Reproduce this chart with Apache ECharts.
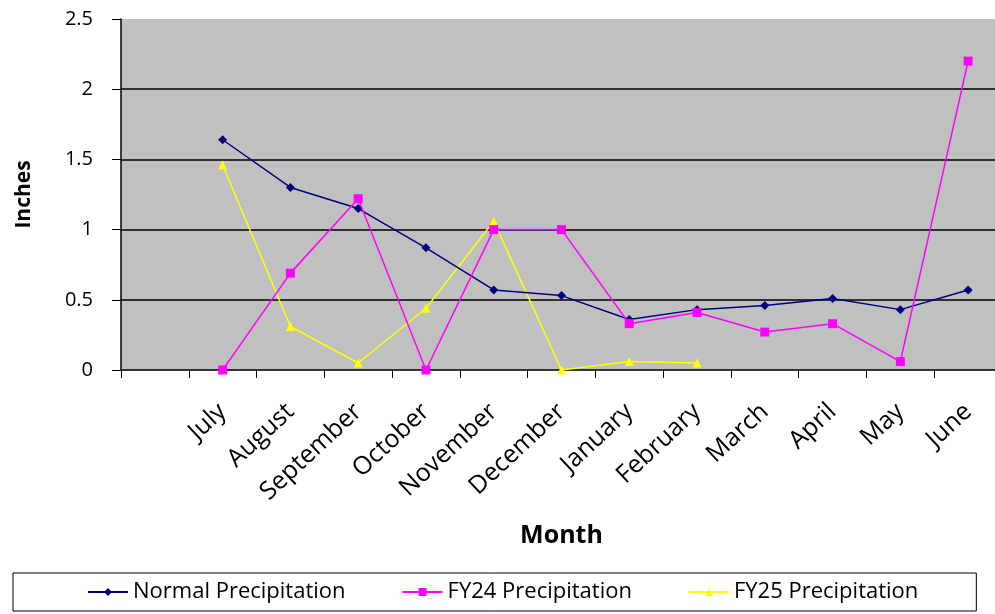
<!DOCTYPE html>
<html>
<head>
<meta charset="utf-8">
<script src="https://cdn.jsdelivr.net/npm/echarts@6/dist/echarts.min.js"></script>
<style>
html,body{margin:0;padding:0;background:#fff;overflow:hidden;width:995px;height:614px;}
#chart{width:1010px;height:614px;}
</style>
</head>
<body>
<div id="chart"></div>
<script>
var months = ['July','August','September','October','November','December','January','February','March','April','May','June'];
var normalPrecip = [1.64, 1.30, 1.15, 0.87, 0.57, 0.53, 0.36, 0.43, 0.46, 0.51, 0.43, 0.57];
var fy24Precip = [0, 0.69, 1.22, 0, 1.00, 1.00, 0.33, 0.41, 0.27, 0.33, 0.06, 2.20];
var fy25Precip = [1.46, 0.31, 0.05, 0.44, 1.06, 0, 0.06, 0.05, null, null, null, null];
var yTicks = [0, 0.5, 1, 1.5, 2, 2.5];
var seriesNames = ['Normal Precipitation', 'FY24 Precipitation', 'FY25 Precipitation'];

// leading blank category as in the original chart
var categories = [''].concat(months);
function pad(arr){ return [null].concat(arr); }

var chart = echarts.init(document.getElementById('chart'));
var FONT = 'Open Sans';
chart.setOption({
  animation: false,
  backgroundColor: '#ffffff',
  grid: {
    left: 121, right: 8, top: 19, height: 351,
    show: true, backgroundColor: '#c0c0c0', borderWidth: 0
  },
  legend: {
    left: 13, top: 573,
    padding: [8, 58, 8, 74],
    borderColor: '#000', borderWidth: 1,
    itemWidth: 40, itemHeight: 10, itemGap: 56,
    textStyle: { fontFamily: FONT, fontSize: 22, color: '#000' },
    data: seriesNames
  },
  xAxis: {
    type: 'category',
    data: categories,
    boundaryGap: true,
    name: 'Month',
    nameLocation: 'middle',
    nameGap: 153,
    nameTextStyle: { fontFamily: FONT, fontWeight: 'bold', fontSize: 25, color: '#000' },
    axisLine: { lineStyle: { color: '#333', width: 1.5 } },
    axisTick: { show: true, length: 8, lineStyle: { color: '#000' } },
    axisLabel: { rotate: 43, margin: 38, interval: 0, fontFamily: FONT, fontSize: 25, color: '#000' },
    splitLine: { show: false }
  },
  yAxis: {
    type: 'value',
    min: yTicks[0], max: yTicks[yTicks.length - 1], interval: 0.5,
    name: 'Inches',
    nameLocation: 'middle',
    nameRotate: 90,
    nameGap: 86,
    nameTextStyle: { fontFamily: FONT, fontWeight: 'bold', fontSize: 21, color: '#000' },
    axisLine: { show: true, lineStyle: { color: '#000', width: 1.5 } },
    axisTick: { show: true, length: 9, lineStyle: { color: '#000' } },
    axisLabel: { margin: 28, fontFamily: FONT, fontSize: 20, color: '#000' },
    splitLine: { show: true, lineStyle: { color: ['#000','#000','#000','#000','#000','rgba(0,0,0,0)'], width: 1.5 } }
  },
  series: [
    {
      name: seriesNames[0], type: 'line', data: pad(normalPrecip),
      symbol: 'diamond', symbolSize: 9,
      itemStyle: { color: '#000080' },
      lineStyle: { color: '#000080', width: 1.5 },
      z: 3
    },
    {
      name: seriesNames[1], type: 'line', data: pad(fy24Precip),
      symbol: 'rect', symbolSize: 9,
      itemStyle: { color: '#ff00ff' },
      lineStyle: { color: '#ff00ff', width: 1.5 },
      z: 4
    },
    {
      name: seriesNames[2], type: 'line', data: pad(fy25Precip),
      symbol: 'triangle', symbolSize: 9,
      itemStyle: { color: '#ffff00' },
      lineStyle: { color: '#ffff00', width: 1.5 },
      z: 2
    }
  ]
});
</script>
</body>
</html>
